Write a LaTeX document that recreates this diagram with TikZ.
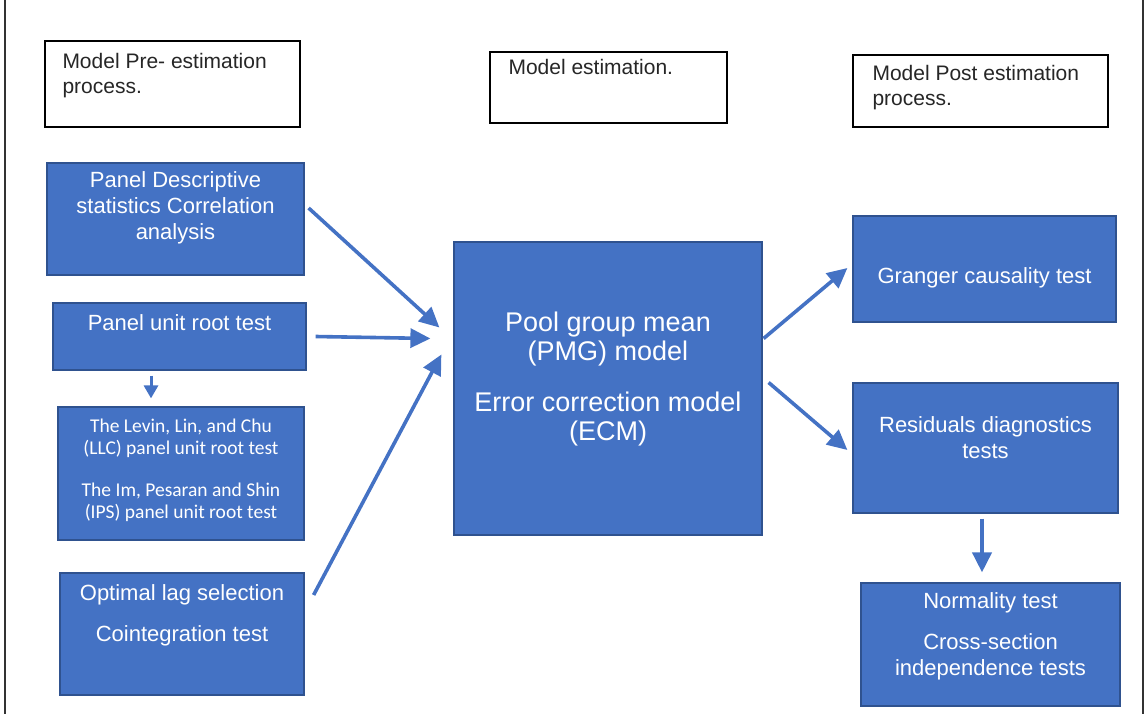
\documentclass[tikz,border=0pt]{standalone}
\usepackage{fontspec}
\setmainfont{Liberation Sans}
\newfontfamily\llcfont{Carlito}
\usepackage{tikz}
\usetikzlibrary{arrows.meta,%
                shapes,positioning}
\definecolor{boxblue}{HTML}{4472C4}
\definecolor{edgeblue}{HTML}{2F528F}
\definecolor{headtext}{HTML}{262626}

\begin{document}
\begin{tikzpicture}[x = 1pt, y = -1pt]
  \useasboundingbox (0,0) rectangle (1148,714);
  \tikzset{HeadStyle/.style  = {draw           = black,
                                fill           = white,
                                line width     = 1.4pt,
                                inner sep      = 0pt}}
  \tikzset{HeadText/.style   = {anchor         = north west,
                                inner sep      = 0pt,
                                align          = left,
                                text           = headtext,
                                font           = \fontsize{21}{25}\selectfont}}
  \tikzset{BlockStyle/.style = {draw           = edgeblue,
                                fill           = boxblue,
                                line width     = 1.2pt,
                                inner sep      = 0pt}}
  \tikzset{BlockText/.style  = {inner sep      = 0pt,
                                align          = center,
                                text           = white,
                                font           = \fontsize{22}{26}\selectfont}}
  \tikzset{ArrowStyle/.style = {draw           = boxblue,
                                line width     = 3.6pt,
                                -{Triangle[length=20pt,width=19pt]}}}
  % side rules
  \draw[line width=1.5pt, black!80] (5,0) -- (5,714);
  \draw[line width=1.5pt, black!80] (1143,0) -- (1143,714);
  % headings
  \node[HeadStyle, minimum width=255, minimum height=86] (pre) at (172.5,84) {};
  \node[HeadText] (preText) at ([xshift=18pt,yshift=-13pt]pre.north west)
       {Model Pre- estimation\\process.};
  \node[HeadStyle, minimum width=237, minimum height=71] (est) at (608.5,87.5) {};
  \node[HeadText] (estText) at ([xshift=19pt,yshift=-8pt]est.north west)
       {Model estimation.};
  \node[HeadStyle, minimum width=255, minimum height=72] (post) at (980.5,91) {};
  \node[HeadText] (postText) at ([xshift=20pt,yshift=-11pt]post.north west)
       {Model Post estimation\\process.};
  % left column
  \node[BlockStyle, minimum width=257, minimum height=112] (desc) at (175.5,219) {};
  \node[BlockText, yshift=11pt] (descText) at (desc)
       {Panel Descriptive\\statistics Correlation\\analysis};
  \node[BlockStyle, minimum width=253, minimum height=67] (unit) at (179.5,336.5) {};
  \node[BlockText, yshift=13.5pt] (unitText) at (unit) {Panel unit root test};
  \node[BlockStyle, minimum width=246, minimum height=133] (llc) at (181,473.5) {};
  \node[BlockText, yshift=3pt, font=\llcfont\fontsize{19.5}{22}\selectfont] (llcText) at (llc)
       {The Levin, Lin, and Chu\\(LLC) panel unit root test\\[20pt]
        The Im, Pesaran and Shin\\(IPS) panel unit root test};
  \node[BlockStyle, minimum width=244, minimum height=122] (lag) at (182,634) {};
  \node[BlockText, yshift=18.5pt] (lagText) at (lag)
       {Optimal lag selection\\[15pt]Cointegration test};
  % centre
  \node[BlockStyle, minimum width=308, minimum height=293] (pmg) at (608,388.5) {};
  \node[BlockText, yshift=9.5pt, font=\fontsize{27}{29}\selectfont] (pmgText) at (pmg)
       {Pool group mean\\(PMG) model\\[22pt]Error correction model\\(ECM)};
  % right column
  \node[BlockStyle, minimum width=263, minimum height=106] (granger) at (984.5,269) {};
  \node[BlockText, yshift=-9pt] (grangerText) at (granger) {Granger causality test};
  \node[BlockStyle, minimum width=265, minimum height=130] (resid) at (985.5,448) {};
  \node[BlockText, yshift=10.5pt] (residText) at (resid)
       {Residuals diagnostics\\tests};
  \node[BlockStyle, minimum width=259, minimum height=123] (normal) at (990.5,644.5) {};
  \node[BlockText, yshift=8pt] (normalText) at (normal)
       {Normality test\\[15pt]Cross-section\\independence tests};
  % arrows
  \draw[ArrowStyle] ([xshift=4pt,yshift=11pt]desc.east)
        -- ([xshift=-14pt,yshift=61pt]pmg.west);
  \draw[ArrowStyle] ([xshift=9pt]unit.east)
        -- ([xshift=-23pt,yshift=50pt]pmg.west);
  \draw[ArrowStyle] ([xshift=9pt,yshift=39pt]lag.east)
        -- ([xshift=-12pt,yshift=34pt]pmg.west);
  \draw[ArrowStyle, line width=3pt, -{Triangle[length=13pt,width=14pt]}]
        ([xshift=-28.5pt,yshift=-5pt]unit.south)
        -- ([xshift=-30pt,yshift=8pt]llc.north);
  \draw[ArrowStyle] ([xshift=1pt,yshift=50pt]pmg.east)
        -- ([xshift=-5pt,yshift=1pt]granger.west);
  \draw[ArrowStyle] ([xshift=6pt,yshift=6pt]pmg.east)
        -- ([xshift=-5pt,yshift=-2pt]resid.west);
  \draw[ArrowStyle, line width=4pt] ([xshift=-3.5pt,yshift=-5pt]resid.south)
        -- ([xshift=-8.5pt,yshift=10pt]normal.north);
\end{tikzpicture}
\end{document}
